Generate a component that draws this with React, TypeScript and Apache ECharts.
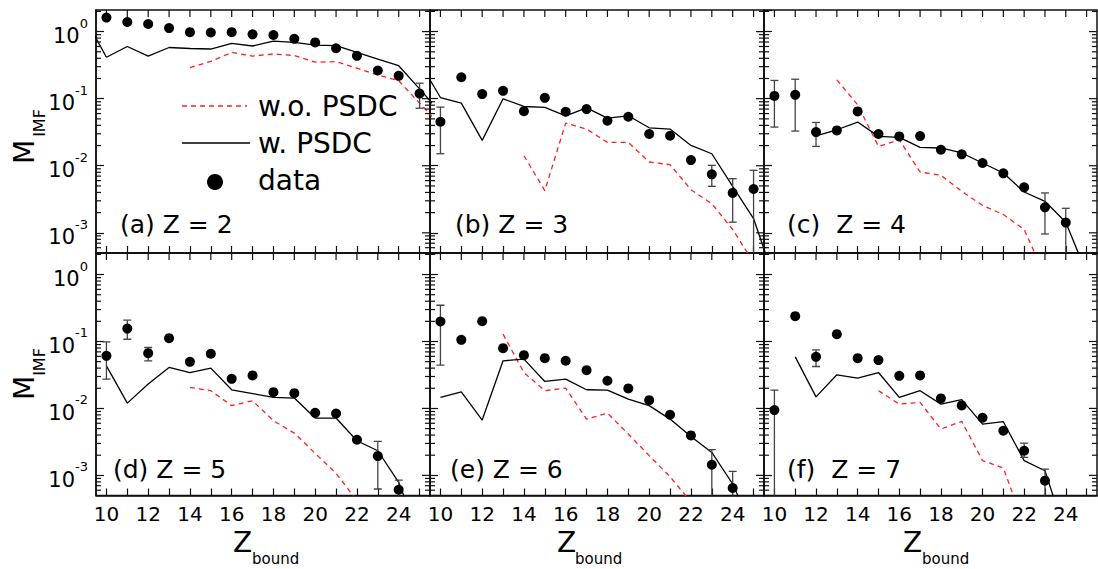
import React, { useEffect, useRef } from "react";
import * as echarts from "echarts";

// ---- axes ----
const X_MIN = 9.5;
const X_MAX = 25.5;
const Y_MIN = 5e-4;
const Y_MAX = 2.1;
const X_TICKS = [10, 11, 12, 13, 14, 15, 16, 17, 18, 19, 20, 21, 22, 23, 24, 25];
const X_LABELS = [10, 12, 14, 16, 18, 20, 22, 24];
const DECADES = [-4, -3, -2, -1, 0];
const MINOR_STEPS = [2, 3, 4, 5, 6, 7, 8, 9];

// ---- (a) Z = 2 ----
const aData = [[10, 1.62], [11, 1.39], [12, 1.3], [13, 1.13], [14, 0.98], [15, 0.97], [16, 0.98], [17, 0.91], [18, 0.89], [19, 0.78], [20, 0.69], [21, 0.565], [22, 0.435], [23, 0.263], [24, 0.219], [25, 0.119]];
const aErr = [[25, 0.072, 0.17]];
const aWith = [[9, 1.53], [10, 0.415], [11, 0.6], [12, 0.43], [13, 0.58], [14, 0.56], [15, 0.55], [16, 0.67], [17, 0.61], [18, 0.72], [19, 0.69], [20, 0.63], [21, 0.62], [22, 0.49], [23, 0.39], [24, 0.31], [25, 0.14], [26, 0.062]];
const aWithout = [[14, 0.29], [15, 0.36], [16, 0.49], [17, 0.43], [18, 0.465], [19, 0.44], [20, 0.35], [21, 0.357], [22, 0.285], [23, 0.226], [24, 0.185], [25, 0.086], [26, 0.04]];

// ---- (b) Z = 3 ----
const bData = [[10, 0.0453], [11, 0.209], [12, 0.117], [13, 0.131], [14, 0.0652], [15, 0.103], [16, 0.0638], [17, 0.0699], [18, 0.0469], [19, 0.0537], [20, 0.0297], [21, 0.028], [22, 0.01216], [23, 0.00745], [24, 0.00393], [25, 0.0045]];
const bErr = [[10, 0.0151, 0.0748], [23, 0.00493, 0.01014], [24, 0.00144, 0.00642], [25, 0.0003, 0.00855]];
const bWith = [[9, 0.35], [10, 0.104], [11, 0.086], [12, 0.0239], [13, 0.0995], [14, 0.0765], [15, 0.074], [16, 0.0556], [17, 0.0731], [18, 0.0513], [19, 0.0556], [20, 0.0368], [21, 0.0352], [22, 0.0201], [23, 0.0151], [24, 0.00493], [25, 0.00163], [26, 0.0002]];
const bWithout = [[14, 0.0141], [15, 0.00425], [16, 0.0432], [17, 0.0352], [18, 0.0223], [19, 0.0223], [20, 0.01137], [21, 0.01037], [22, 0.0044], [23, 0.00272], [24, 0.00112], [25, 0.00036]];

// ---- (c) Z = 4 ----
const cData = [[10, 0.11], [11, 0.114], [12, 0.0318], [13, 0.0336], [14, 0.0645], [15, 0.0297], [16, 0.0274], [17, 0.0277], [18, 0.0173], [19, 0.0148], [20, 0.011], [21, 0.0077], [22, 0.00477], [23, 0.0024], [24, 0.00142]];
const cErr = [[10, 0.0377, 0.187], [11, 0.0329, 0.195], [12, 0.0194, 0.0442], [23, 0.00096, 0.00393], [24, 0.0003, 0.00232]];
const cWith = [[12, 0.028], [13, 0.0344], [14, 0.0448], [15, 0.0274], [16, 0.0265], [17, 0.0188], [18, 0.0184], [19, 0.0155], [20, 0.011], [21, 0.0078], [22, 0.00406], [23, 0.00295], [24, 0.00144], [25, 0.00025]];
const cWithout = [[13, 0.191], [14, 0.081], [15, 0.0194], [16, 0.0244], [17, 0.00807], [18, 0.0072], [19, 0.00416], [20, 0.00257], [21, 0.00187], [22, 0.00112], [23, 0.00023]];

// ---- (d) Z = 5 ----
const dData = [[10, 0.0611], [11, 0.156], [12, 0.067], [13, 0.112], [14, 0.0497], [15, 0.0655], [16, 0.0277], [17, 0.0311], [18, 0.0175], [19, 0.0169], [20, 0.0086], [21, 0.0084], [22, 0.0034], [23, 0.00194], [24, 0.00061]];
const dErr = [[10, 0.0274, 0.0989], [11, 0.108, 0.208], [12, 0.0514, 0.0813], [23, 0.000625, 0.00322], [24, 0.0004, 0.00085]];
const dWith = [[10, 0.0433], [11, 0.012], [12, 0.0231], [13, 0.0409], [14, 0.0344], [15, 0.04], [16, 0.019], [17, 0.0167], [18, 0.0146], [19, 0.0143], [20, 0.00718], [21, 0.00718], [22, 0.00329], [23, 0.00233], [24, 0.000787], [25, 0.00012]];
const dWithout = [[14, 0.0206], [15, 0.0184], [16, 0.011], [17, 0.013], [18, 0.00654], [19, 0.00428], [20, 0.00213], [21, 0.00107], [22, 0.00042]];

// ---- (e) Z = 6 ----
const eData = [[10, 0.199], [11, 0.106], [12, 0.201], [13, 0.0795], [14, 0.0625], [15, 0.0564], [16, 0.0515], [17, 0.0373], [18, 0.0259], [19, 0.0199], [20, 0.0133], [21, 0.00804], [22, 0.00395], [23, 0.00144], [24, 0.000647]];
const eErr = [[10, 0.0443, 0.348], [23, 0.0003, 0.00242], [24, 0.0003, 0.00115]];
const eWith = [[10, 0.0146], [11, 0.0177], [12, 0.0067], [13, 0.0515], [14, 0.0545], [15, 0.0253], [16, 0.0274], [17, 0.019], [18, 0.0188], [19, 0.0138], [20, 0.011], [21, 0.00693], [22, 0.00382], [23, 0.0022], [24, 0.000743], [25, 0.00015]];
const eWithout = [[13, 0.1286], [14, 0.0344], [15, 0.0184], [16, 0.0201], [17, 0.00693], [18, 0.0085], [19, 0.00414], [20, 0.00197], [21, 0.000955], [22, 0.0004]];

// ---- (f) Z = 7 ----
const fData = [[10, 0.00944], [11, 0.239], [12, 0.059], [13, 0.1286], [14, 0.0564], [15, 0.0527], [16, 0.0307], [17, 0.0311], [18, 0.0141], [19, 0.0111], [20, 0.00726], [21, 0.00464], [22, 0.00233], [23, 0.000832]];
const fErr = [[10, 0.0003, 0.0188], [12, 0.0423, 0.075], [22, 0.00186, 0.00304], [23, 0.0003, 0.00124]];
const fWith = [[11, 0.059], [12, 0.0149], [13, 0.0318], [14, 0.0284], [15, 0.0344], [16, 0.0146], [17, 0.0184], [18, 0.0116], [19, 0.0135], [20, 0.00583], [21, 0.00633], [22, 0.00166], [23, 0.00117], [24, 0.00013]];
const fWithout = [[15, 0.0184], [16, 0.0116], [17, 0.0123], [18, 0.00492], [19, 0.0064], [20, 0.00166], [21, 0.00129], [22, 0.00018]];

const PANEL_LABELS = ["(a) Z = 2", "(b) Z = 3", "(c)  Z = 4", "(d) Z = 5", "(e) Z = 6", "(f)  Z = 7"];
const LEGEND_NAMES = ["w.o. PSDC", "w. PSDC", "data"];

const FONT = "DejaVu Sans";

export default function App() {
  const ref = useRef<HTMLDivElement>(null);

  useEffect(() => {
    if (!ref.current) return;
    const chart = echarts.init(ref.current, null, { renderer: "svg" });

    const panels = [
      { data: aData, err: aErr, w: aWith, wo: aWithout },
      { data: bData, err: bErr, w: bWith, wo: bWithout },
      { data: cData, err: cErr, w: cWith, wo: cWithout },
      { data: dData, err: dErr, w: dWith, wo: dWithout },
      { data: eData, err: eErr, w: eWith, wo: eWithout },
      { data: fData, err: fErr, w: fWith, wo: fWithout },
    ];

    const colLeft = [96, 430, 764];
    const colWidth = [334, 334, 333];
    const rowTop = [10, 253];
    const rowHeight = [243, 242.5];

    // tick anchors: [x, y, kind] kind 0 left-minor, 1 right-major, 2 right-minor, 3 top
    const tickAnchors: number[][] = [];
    DECADES.forEach((e) => {
      const major = Math.pow(10, e);
      if (major >= Y_MIN && major <= Y_MAX) tickAnchors.push([X_MAX, major, 1]);
      MINOR_STEPS.forEach((k) => {
        const v = k * Math.pow(10, e);
        if (v > Y_MIN && v < Y_MAX) {
          tickAnchors.push([X_MIN, v, 0]);
          tickAnchors.push([X_MAX, v, 2]);
        }
      });
    });
    X_TICKS.forEach((t) => tickAnchors.push([t, Y_MAX, 3]));

    const grids: any[] = [];
    const xAxes: any[] = [];
    const yAxes: any[] = [];
    const series: any[] = [];
    const axisColor = "#111";

    panels.forEach((p, i) => {
      const col = i % 3;
      const row = Math.floor(i / 3);
      grids.push({
        left: colLeft[col],
        top: rowTop[row],
        width: colWidth[col],
        height: rowHeight[row],
        show: true,
        borderColor: axisColor,
        borderWidth: 1.5,
        backgroundColor: "transparent",
        containLabel: false,
        outerBoundsMode: "none",
      });
      xAxes.push({
        gridIndex: i,
        type: "value",
        min: X_MIN,
        max: X_MAX,
        interval: 1,
        axisLine: { show: true, onZero: false, lineStyle: { color: axisColor, width: 1.5 } },
        axisTick: { show: true, inside: true, length: 7, customValues: X_TICKS, lineStyle: { color: axisColor, width: 1.2 } },
        axisLabel: {
          show: row === 1,
          customValues: X_LABELS,
          fontSize: 20,
          fontFamily: FONT,
          color: "#000",
          margin: 8,
        },
        splitLine: { show: false },
      });
      yAxes.push({
        gridIndex: i,
        type: "log",
        logBase: 10,
        min: Y_MIN,
        max: Y_MAX,
        axisLine: { show: true, lineStyle: { color: axisColor, width: 1.5 } },
        axisTick: { show: true, inside: true, length: 8, lineStyle: { color: axisColor, width: 1.2 } },
        axisLabel: {
          show: col === 0,
          showMinLabel: false,
          showMaxLabel: false,
          margin: 8,
          formatter: (v: number) => {
            const lg = Math.log10(v);
            const e = Math.round(lg);
            if (Math.abs(lg - e) > 1e-6) return "";
            return `{b|10}{e|${e}}`;
          },
          rich: {
            b: { fontSize: 21, fontFamily: FONT, color: "#000", lineHeight: 30, verticalAlign: "bottom" },
            e: { fontSize: 13, fontFamily: FONT, color: "#000", lineHeight: 13, verticalAlign: "top" },
          },
        },
        splitLine: { show: false },
      });

      series.push({
        name: LEGEND_NAMES[0],
        type: "line",
        xAxisIndex: i,
        yAxisIndex: i,
        data: p.wo,
        symbol: "none",
        clip: true,
        lineStyle: { color: "#ff2020", width: 1.3, type: [5, 4] },
        itemStyle: { color: "#ff2020" },
        z: 2,
      });
      series.push({
        name: LEGEND_NAMES[1],
        type: "line",
        xAxisIndex: i,
        yAxisIndex: i,
        data: p.w,
        symbol: "none",
        clip: true,
        lineStyle: { color: "#000", width: 1.3 },
        itemStyle: { color: "#000" },
        z: 3,
      });
      series.push({
        type: "custom",
        xAxisIndex: i,
        yAxisIndex: i,
        data: p.err,
        clip: true,
        encode: { x: 0, y: [1, 2] },
        z: 4,
        renderItem: (_params: any, api: any) => {
          const x = api.value(0);
          const lo = api.coord([x, api.value(1)]);
          const hi = api.coord([x, api.value(2)]);
          const st = { stroke: "#444", lineWidth: 1.3 };
          const w = 4;
          return {
            type: "group",
            children: [
              { type: "line", shape: { x1: lo[0], y1: lo[1], x2: hi[0], y2: hi[1] }, style: st },
              { type: "line", shape: { x1: hi[0] - w, y1: hi[1], x2: hi[0] + w, y2: hi[1] }, style: st },
              { type: "line", shape: { x1: lo[0] - w, y1: lo[1], x2: lo[0] + w, y2: lo[1] }, style: st },
            ],
          };
        },
      });
      series.push({
        name: LEGEND_NAMES[2],
        type: "scatter",
        xAxisIndex: i,
        yAxisIndex: i,
        data: p.data,
        symbol: "circle",
        symbolSize: 10,
        itemStyle: { color: "#000", opacity: 1 },
        z: 5,
      });
      series.push({
        type: "custom",
        xAxisIndex: i,
        yAxisIndex: i,
        data: tickAnchors,
        clip: false,
        silent: true,
        encode: { x: 0, y: 1 },
        z: 6,
        renderItem: (_params: any, api: any) => {
          const pt = api.coord([api.value(0), api.value(1)]);
          const kind = api.value(2);
          const st = { stroke: axisColor, lineWidth: 1.2 };
          let shape;
          if (kind === 0) shape = { x1: pt[0], y1: pt[1], x2: pt[0] + 5, y2: pt[1] };
          else if (kind === 1) shape = { x1: pt[0] - 8, y1: pt[1], x2: pt[0], y2: pt[1] };
          else if (kind === 2) shape = { x1: pt[0] - 5, y1: pt[1], x2: pt[0], y2: pt[1] };
          else shape = { x1: pt[0], y1: pt[1], x2: pt[0], y2: pt[1] + 7 };
          return { type: "line", shape, style: st };
        },
      });
    });

    const panelLabelPos = [
      [120, 224], [455, 224], [787, 224],
      [113, 469], [450, 469], [787, 469],
    ];
    const graphics: any[] = [];
    PANEL_LABELS.forEach((t, i) => {
      graphics.push({
        type: "text",
        x: panelLabelPos[i][0],
        y: panelLabelPos[i][1],
        style: { text: t, fontSize: 25, fontFamily: FONT, fill: "#000", align: "left", verticalAlign: "middle" },
      });
    });
    // legend in panel (a)
    graphics.push({ type: "line", shape: { x1: 182, y1: 106, x2: 247, y2: 106 }, style: { stroke: "#ff2020", lineWidth: 1.3, lineDash: [5, 4] } });
    graphics.push({ type: "line", shape: { x1: 182, y1: 143, x2: 250, y2: 143 }, style: { stroke: "#000", lineWidth: 1.3 } });
    graphics.push({ type: "circle", shape: { cx: 215, cy: 182, r: 8 }, style: { fill: "#000" } });
    [[LEGEND_NAMES[0], 106], [LEGEND_NAMES[1], 143], [LEGEND_NAMES[2], 180]].forEach(([t, y]) => {
      graphics.push({
        type: "text",
        x: 258,
        y: y as number,
        style: { text: t as string, fontSize: 28, fontFamily: FONT, fill: "#000", align: "left", verticalAlign: "middle" },
      });
    });
    // y titles
    [[152, 123], [388, 362]].forEach(([ym, ys]) => {
      graphics.push({ type: "text", x: 24, y: ym, rotation: Math.PI / 2, style: { text: "M", fontSize: 28, fontFamily: FONT, fill: "#000", align: "center", verticalAlign: "middle" } });
      graphics.push({ type: "text", x: 39, y: ys, rotation: Math.PI / 2, style: { text: "IMF", fontSize: 16, fontFamily: FONT, fill: "#000", align: "center", verticalAlign: "middle" } });
    });
    // x titles
    [[233, 252], [557, 575], [903, 922]].forEach(([xz, xb]) => {
      graphics.push({ type: "text", x: xz, y: 542, style: { text: "Z", fontSize: 28, fontFamily: FONT, fill: "#000", align: "left", verticalAlign: "middle" } });
      graphics.push({ type: "text", x: xb, y: 559, style: { text: "bound", fontSize: 15, fontFamily: FONT, fill: "#000", align: "left", verticalAlign: "middle" } });
    });

    chart.setOption({
      animation: false,
      backgroundColor: "#fff",
      textStyle: { fontFamily: FONT },
      grid: grids,
      xAxis: xAxes,
      yAxis: yAxes,
      series,
      graphic: graphics,
    });

    return () => chart.dispose();
  }, []);

  return (
    <div
      ref={ref}
      style={{ position: "fixed", left: 0, top: 0, width: 1098, height: 569, background: "#fff" }}
    />
  );
}
